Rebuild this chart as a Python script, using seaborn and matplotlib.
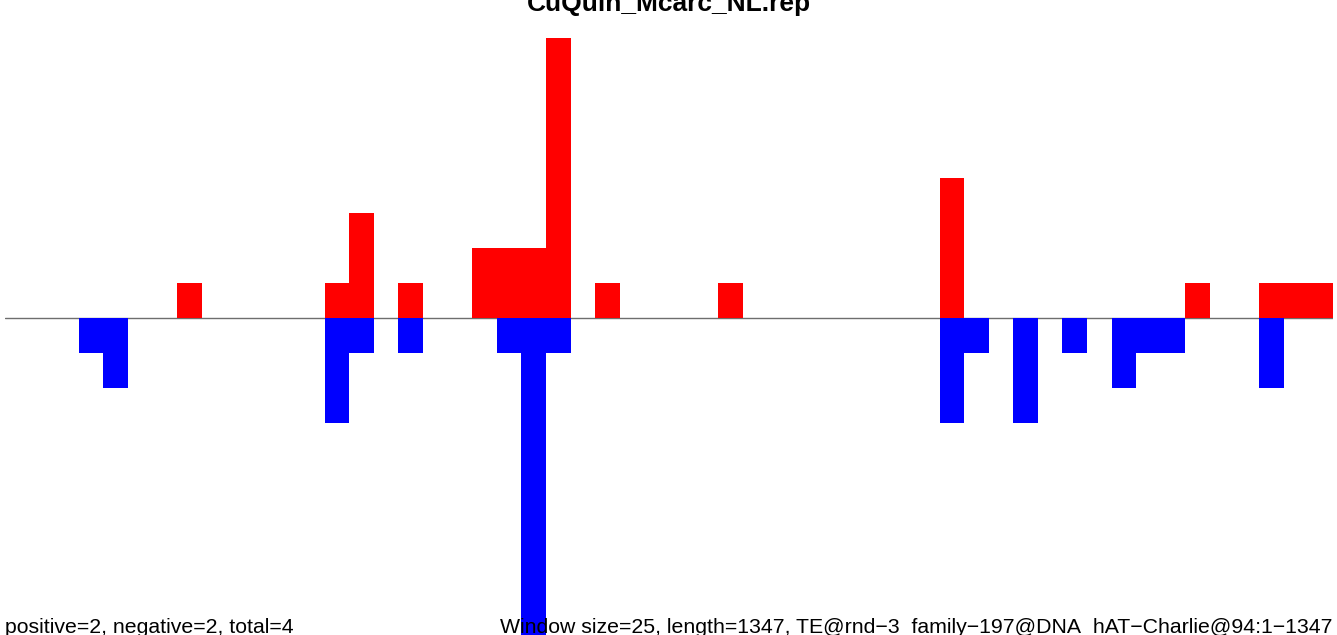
import matplotlib
matplotlib.use("Agg")
import matplotlib.pyplot as plt
import seaborn as sns
import pandas as pd
import numpy as np

# ---- data ----
n_windows = 54
windows = list(range(n_windows))
pos_idx = [7, 13, 14, 16, 19, 20, 21, 22, 24, 29, 38, 48, 51, 52, 53]
pos_val = [1, 1, 3, 1, 2, 2, 2, 8, 1, 1, 4, 1, 1, 1, 1]
neg_idx = [3, 4, 13, 14, 16, 20, 21, 22, 38, 39, 41, 43, 45, 46, 47, 51]
neg_val = [1, 2, 3, 1, 1, 1, 10, 1, 3, 1, 3, 1, 2, 1, 1, 2]

title = "CuQuin_Mcarc_NL.rep"
left_text = "positive=2, negative=2, total=4"
right_text = "Window size=25, length=1347, TE@rnd\u22123_family\u2212197@DNA_hAT\u2212Charlie@94:1\u22121347"

pos = np.zeros(n_windows)
neg = np.zeros(n_windows)
for i, v in zip(pos_idx, pos_val):
    pos[i] = v
for i, v in zip(neg_idx, neg_val):
    neg[i] = -v
df = pd.DataFrame({"window": windows, "pos": pos, "neg": neg})

sns.set_style("white")
plt.rcParams["font.family"] = ["Liberation Sans", "DejaVu Sans"]

W, H = 1337, 635
fig = plt.figure(figsize=(W / 100, H / 100), dpi=100)
ax = fig.add_axes([5 / W, 0, (1333 - 5) / W, 1])

sns.barplot(data=df, x="window", y="pos", order=windows, color="#FF0000",
            saturation=1, width=1.0, linewidth=0, ax=ax, errorbar=None)
sns.barplot(data=df, x="window", y="neg", order=windows, color="#0000FF",
            saturation=1, width=1.0, linewidth=0, ax=ax, errorbar=None)

ax.axhline(0, color="#6e6e6e", linewidth=1.0, zorder=0.5)

ax.set_xlim(-0.5, n_windows - 0.5)
unit = 35.0
ax.set_ylim(-(H - 318) / unit, 318 / unit)
ax.axis("off")

fig.text(669 / W, 1 - 11 / H, title, ha="center", va="baseline",
         fontsize=19, fontweight="bold", color="black")
fig.text(5 / W, 1 - 633 / H, left_text, ha="left", va="baseline",
         fontsize=15.3, color="black")
fig.text(1333 / W, 1 - 633 / H, right_text, ha="right", va="baseline",
         fontsize=15.3, color="black")

fig.savefig("out.png", dpi=100)
